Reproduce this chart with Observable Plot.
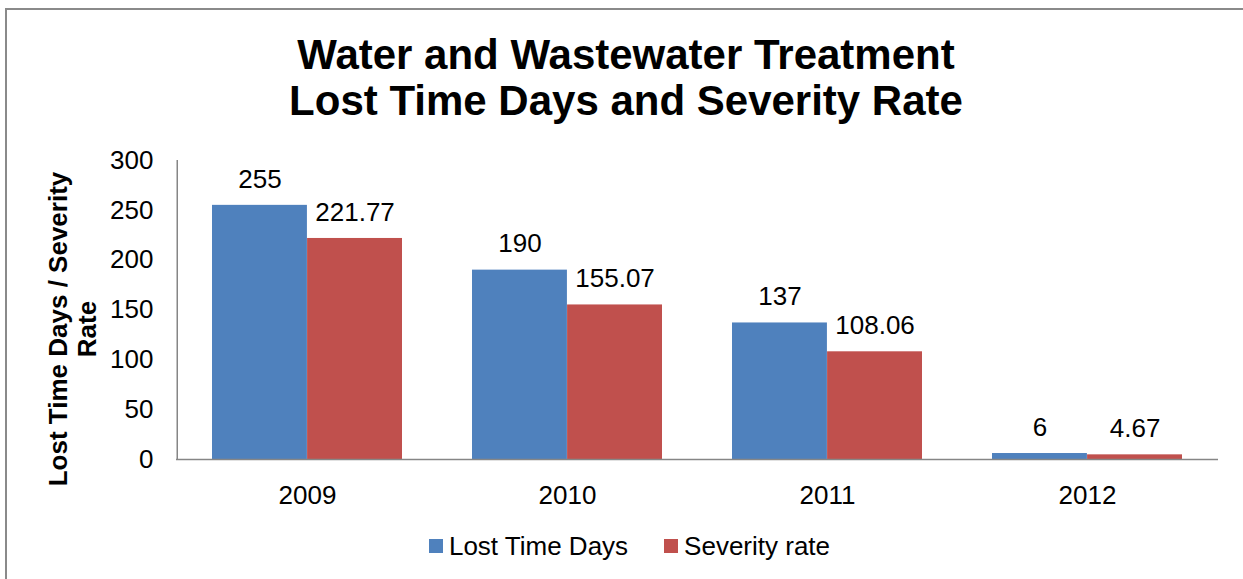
<!DOCTYPE html>
<html><head><meta charset="utf-8">
<script src="https://cdn.jsdelivr.net/npm/d3@7"></script>
<script src="https://cdn.jsdelivr.net/npm/@observablehq/plot@0.6"></script>
<style>
body{margin:0;background:#fff;font-family:"Liberation Sans",Arial,sans-serif;}
#wrap{position:relative;width:1243px;height:579px;overflow:hidden;background:#fff;}
#border{position:absolute;left:5px;top:8px;width:1300px;height:700px;border-top:2px solid #8a8a8a;border-left:2px solid #8a8a8a;pointer-events:none;}
#title{box-sizing:border-box;padding-top:32px;padding-left:9px;height:140px;text-align:center;font-weight:bold;font-size:42px;line-height:46px;color:#000;}
#chart svg{display:block;}
#legend{display:flex;justify-content:center;align-items:center;height:32px;padding-left:16px;font-size:26px;color:#000;}
.item{display:flex;align-items:center;}
.sw{width:14px;height:14px;margin-right:6px;}
.gap{width:36px;}
</style></head>
<body>
<div id="wrap">
  <div id="title">Water and Wastewater Treatment<br>Lost Time Days and Severity Rate</div>
  <div id="chart"></div>
  <div id="legend"></div>
  <div id="border"></div>
</div>
<script>
const years = ["2009", "2010", "2011", "2012"];
const lostTimeDays = [255, 190, 137, 6];
const severityRate = [221.77, 155.07, 108.06, 4.67];
const seriesNames = ["Lost Time Days", "Severity rate"];
const seriesColors = ["#4F81BD", "#C0504D"];
const yTicks = [0, 50, 100, 150, 200, 250, 300];
const yLabel = "Lost Time Days / Severity\nRate";

const W = 1243, H = 390, mL = 176, mR = 25, mT = 20, mB = 71;
const padIn = 0.27, padOut = 0.135;
const step = (W - mL - mR) / (years.length - padIn + 2 * padOut);
const half = step * (1 - padIn) / 2;
const gray = "#868686";

const lost = years.map((y, i) => ({year: y, value: lostTimeDays[i]}));
const sev = years.map((y, i) => ({year: y, value: severityRate[i]}));

const chart = Plot.plot({
  width: W, height: H,
  marginLeft: mL, marginRight: mR, marginTop: mT, marginBottom: mB,
  style: {fontFamily: "'Liberation Sans', Arial, sans-serif", fontSize: "26px", color: "#000", background: "transparent"},
  x: {domain: years, paddingInner: padIn, paddingOuter: padOut, tickSize: 0, tickPadding: 26, label: null},
  y: {domain: [0, 300], ticks: yTicks, tickSize: 0, tickPadding: 23, label: null},
  marks: [
    Plot.barY(lost, {x: "year", y: "value", fill: seriesColors[0], insetRight: half}),
    Plot.barY(sev, {x: "year", y: "value", fill: seriesColors[1], insetLeft: half}),
    Plot.ruleY([0], {stroke: gray, strokeWidth: 1.5}),
    Plot.ruleX([years[0]], {x: d => d, y1: 0, y2: 300, stroke: gray, strokeWidth: 1.5, dx: -(step * padOut + half)}),
    Plot.text(lost, {x: "year", y: "value", text: d => String(d.value), dx: -half / 2, dy: -26, fontSize: 26}),
    Plot.text(sev, {x: "year", y: "value", text: d => String(d.value), dx: half / 2, dy: -26, fontSize: 26}),
    Plot.text([yLabel], {text: d => d, frameAnchor: "left", rotate: -90, dx: -104, dy: 19, fontWeight: "bold", fontSize: 26, lineHeight: 1.1, textAnchor: "middle"})
  ]
});
document.getElementById("chart").appendChild(chart);

const legend = document.getElementById("legend");
seriesNames.forEach((name, i) => {
  if (i > 0) { const g = document.createElement("div"); g.className = "gap"; legend.appendChild(g); }
  const item = document.createElement("div"); item.className = "item";
  const sw = document.createElement("div"); sw.className = "sw"; sw.style.background = seriesColors[i];
  const t = document.createElement("span"); t.textContent = name;
  item.appendChild(sw); item.appendChild(t); legend.appendChild(item);
});
</script>
</body></html>
